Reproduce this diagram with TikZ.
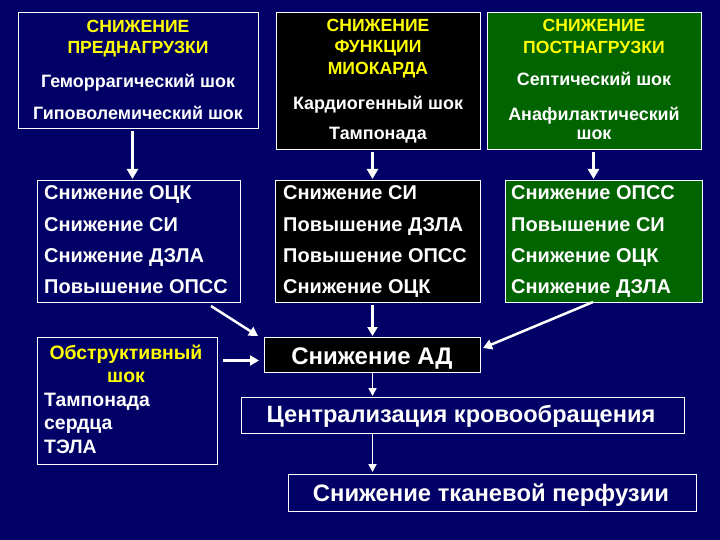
\documentclass[tikz,border=0pt]{standalone}
\usepackage{fontspec}
\setmainfont{Liberation Sans}
\usetikzlibrary{arrows.meta,calc}
\definecolor{navy}{RGB}{0,0,102}
\definecolor{dgreen}{RGB}{0,100,0}
\definecolor{yel}{RGB}{255,255,0}
\tikzset{
  box/.style={draw=white, line width=1pt, anchor=north west, inner sep=0pt},
  hd/.style={text=yel, font=\bfseries\fontsize{17.6}{21}\selectfont, anchor=base, inner sep=0pt},
  bd/.style={text=white, font=\bfseries\fontsize{17.9}{20}\selectfont, anchor=base, inner sep=0pt},
  rw/.style={text=white, font=\bfseries\fontsize{20}{22}\selectfont, anchor=base west, inner sep=0pt},
  ob/.style={font=\bfseries\fontsize{19.4}{22}\selectfont, inner sep=0pt},
  arr/.style={draw=white, line width=3pt, -{Triangle[length=10pt,width=11pt]}},
  arrm/.style={draw=white, line width=2.5pt, -{Triangle[length=9pt,width=10pt]}},
  arrs/.style={draw=white, line width=1.8pt, -{Triangle[length=8pt,width=8pt]}},
}
\begin{document}
\begin{tikzpicture}[x=1pt,y=-1pt]
\fill[navy] (0,0) rectangle (720,540);
\useasboundingbox (0,0) rectangle (720,540);
% top boxes
\node[box, fill=navy, minimum width=240pt, minimum height=116pt] (b1) at (18,12) {};
\node[box, fill=black, minimum width=204pt, minimum height=137pt] (b2) at (276,12) {};
\node[box, fill=dgreen, minimum width=214pt, minimum height=137pt] (b3) at (487,12) {};
\node[hd] (t11) at (138,33) {СНИЖЕНИЕ};
\node[hd] (t12) at (138,54) {ПРЕДНАГРУЗКИ};
\node[bd] (t13) at (138,88) {Геморрагический шок};
\node[bd] (t14) at (138,120) {Гиповолемический шок};
\node[hd] (t21) at (378,32) {СНИЖЕНИЕ};
\node[hd] (t22) at (378,53) {ФУНКЦИИ};
\node[hd] (t23) at (378,75) {МИОКАРДА};
\node[bd] (t24) at (378,110) {Кардиогенный шок};
\node[bd] (t25) at (378,140) {Тампонада};
\node[hd] (t31) at (594,32) {СНИЖЕНИЕ};
\node[hd] (t32) at (594,54) {ПОСТНАГРУЗКИ};
\node[bd] (t33) at (594,86) {Септический шок};
\node[bd] (t34) at (594,121) {Анафилактический};
\node[bd] (t35) at (594,140) {шок};
% middle boxes
\node[box, fill=navy, minimum width=203pt, minimum height=122pt] (a1) at (37,180) {};
\node[box, fill=black, minimum width=205pt, minimum height=122pt] (a2) at (275,180) {};
\node[box, fill=dgreen, minimum width=197pt, minimum height=122pt] (a3) at (505,180) {};
\node[rw] (r11) at (44,200) {Снижение ОЦК};
\node[rw] (r12) at (44,231) {Снижение СИ};
\node[rw] (r13) at (44,262) {Снижение ДЗЛА};
\node[rw] (r14) at (44,293) {Повышение ОПСС};
\node[rw] (r21) at (283,200) {Снижение СИ};
\node[rw] (r22) at (283,231) {Повышение ДЗЛА};
\node[rw] (r23) at (283,262) {Повышение ОПСС};
\node[rw] (r24) at (283,293) {Снижение ОЦК};
\node[rw] (r31) at (511,200) {Снижение ОПСС};
\node[rw] (r32) at (511,231) {Повышение СИ};
\node[rw] (r33) at (511,262) {Снижение ОЦК};
\node[rw] (r34) at (511,293) {Снижение ДЗЛА};
% lower boxes
\node[box, fill=navy, minimum width=180pt, minimum height=127pt] (obx) at (37,337) {};
\node[ob, text=yel, anchor=base] (o1) at (126,359) {Обструктивный};
\node[ob, text=yel, anchor=base] (o2) at (126,382) {шок};
\node[ob, text=white, anchor=base west] (o3) at (44,406) {Тампонада};
\node[ob, text=white, anchor=base west] (o4) at (44,429) {сердца};
\node[ob, text=white, anchor=base west] (o5) at (44,453) {ТЭЛА};
\node[box, fill=black, minimum width=216pt, minimum height=35pt] (ad) at (264,337) {};
\node[text=white, font=\bfseries\fontsize{24}{26}\selectfont, anchor=base, inner sep=0pt] (adt) at (372,364) {Снижение АД};
\node[box, fill=navy, minimum width=443pt, minimum height=36pt] (cz) at (241,397) {};
\node[text=white, font=\bfseries\fontsize{23.6}{26}\selectfont, anchor=base, inner sep=0pt] (czt) at (461,422) {Централизация кровообращения};
\node[box, fill=navy, minimum width=408pt, minimum height=37pt] (pf) at (288,474) {};
\node[text=white, font=\bfseries\fontsize{23.8}{26}\selectfont, anchor=base, inner sep=0pt] (pft) at (491,501) {Снижение тканевой перфузии};
% connectors
\draw[arr] ($(b1.south)+(-6,2)$) -- ($(b1.south |- a1.north)+(-6,-1)$);
\draw[arr] ($(b2.south)+(-6,2)$) -- ($(b2.south |- a2.north)+(-6,-1)$);
\draw[arr] ($(b3.south)+(-1,2)$) -- ($(b3.south |- a3.north)+(-1,-1)$);
\draw[arrm] ($(a1.south east)+(-30,3)$) -- ($(ad.north west)+(-6,-1)$);
\draw[arrm] ($(ad.north |- a2.south)+(0,2)$) -- ($(ad.north)+(0,-1)$);
\draw[arrm] ($(a3.south)+(-11,-1)$) -- ($(ad.east)+(2,-7)$);
\draw[arrm] ($(obx.east |- ad.west)+(5,5.5)$) -- ($(ad.west)+(-5,5.5)$);
\draw[arrs] ($(ad.south)$) -- ($(ad.south |- cz.north)+(0,-1)$);
\draw[arrs] ($(ad.south |- cz.south)$) -- ($(ad.south |- pf.north)+(0,-2)$);
\end{tikzpicture}
\end{document}
